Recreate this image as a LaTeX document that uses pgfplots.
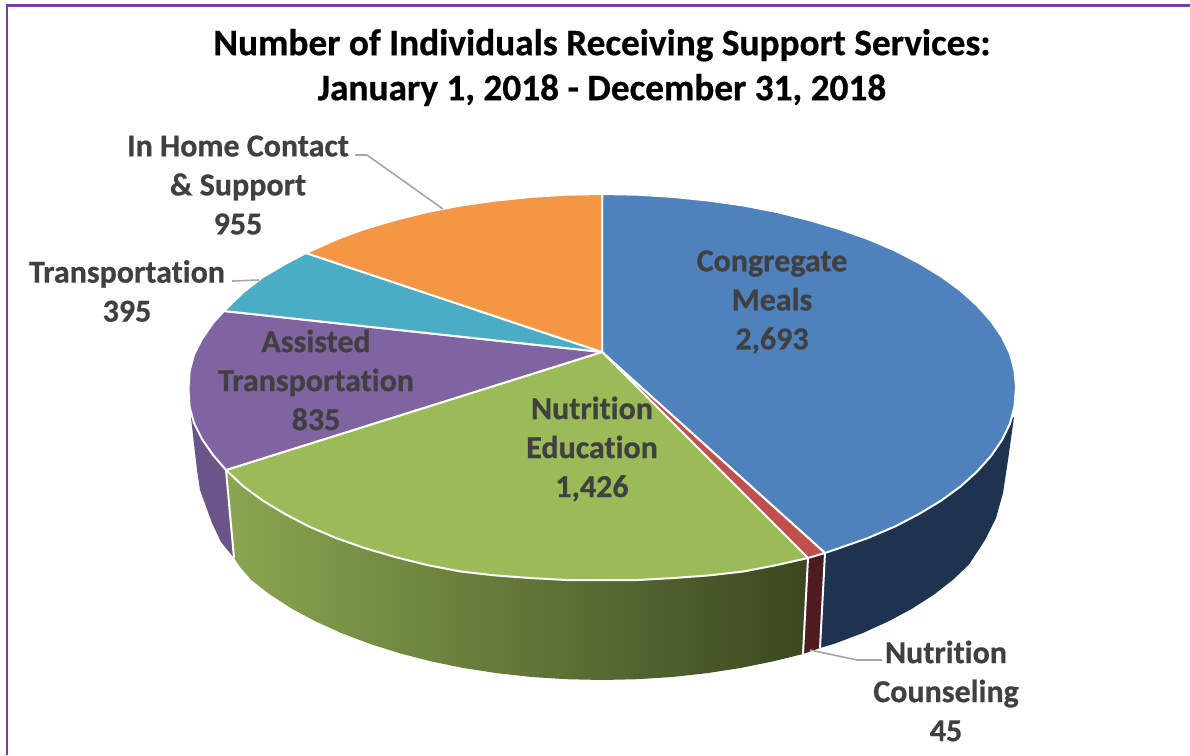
\documentclass[border=0pt]{standalone}
\usepackage{fontspec}
\setmainfont[Ligatures=NoCommon,BoldFeatures={FakeBold=0.6}]{Carlito}
\usepackage{pgfplots}
\pgfplotsset{compat=1.18}
% pie values, drawn as outlines in picture pixels
\definecolor{blu}{HTML}{4F81BD}
\definecolor{redd}{HTML}{C0504D}
\definecolor{grn}{HTML}{9BBB59}
\definecolor{pur}{HTML}{8064A2}
\definecolor{tea}{HTML}{4BACC6}
\definecolor{ora}{HTML}{F49644}
\definecolor{navy}{HTML}{1D3350}
\definecolor{wine}{HTML}{4E1C1E}
\definecolor{pursd}{HTML}{6B5488}
\definecolor{grnL}{HTML}{8AA650}
\definecolor{grnD}{HTML}{3B4720}
\definecolor{frame}{HTML}{7440A8}
\definecolor{ink}{HTML}{404040}
\definecolor{lead}{HTML}{A6A6A6}
\tikzset{
  lbl/.style={align=center, text=ink, inner sep=0pt,
              font=\fontsize{32}{39}\selectfont\bfseries},
  ttl/.style={align=center, text=black, inner sep=0pt,
              font=\fontsize{37.3}{45}\selectfont\bfseries},
}
\pgfplotsset{
  slice/.style={fill=#1, draw=white, line width=2pt, line join=round},
  side/.style={fill=#1, draw=none},
  sep/.style={draw=white, line width=2pt},
  leader/.style={draw=lead, line width=1.6pt},
}
\begin{document}
\begin{tikzpicture}
\path[use as bounding box] (0,0) rectangle (1190pt,755pt);
\begin{axis}[
  at={(0,0)}, anchor=south west,
  width=1190pt, height=755pt, scale only axis,
  xmin=0, xmax=1190, ymin=0, ymax=755, y dir=reverse,
  hide axis,
]
% frame
\addplot[draw=frame, line width=2.5pt] coordinates {(7,755) (7,5.5) (1190,5.5)};

% side walls
\addplot[side=navy] coordinates {
 (1014,417) (1008,460) (1003,493) (996,518) (985,540) (969,564.5) (952.7,580) (933.8,594.7)
 (912.2,608.6) (888.4,621.4) (862.3,633.2) (834.3,643.8) (820,648) (825,553)} --cycle;
\addplot[side=wine] coordinates {(825,553) (820,648) (803,654) (808,558)} --cycle;
\addplot[left color=grnL, right color=grnD, draw=none] coordinates {
 (808,558) (803,654) (773.2,661.3) (740.5,668) (706.8,673.2) (672.3,677) (637.3,679.2) (602,680)
 (566.7,679.2) (531.7,677) (497.2,673.2) (463.5,668) (430.8,661.3) (399.5,653.2) (369.7,643.8)
 (341.7,633.2) (315.6,621.4) (291.8,608.6) (270.2,594.7) (251.3,580) (240,567) (234,558) (226,470)} --cycle;
\addplot[side=pursd] coordinates {
 (190.7,415) (197,470) (200,490) (212,523) (221,542) (234,558) (226,470)} --cycle;
\addplot[sep] coordinates {(825,553) (820,648)};
\addplot[sep] coordinates {(808,558) (803,654)};
\addplot[sep] coordinates {(226,470) (234,558)};

% top faces
\addplot[slice=blu] coordinates {
 (602,352) (602,194) (638,194.7) (674,197) (709,200.6) (744,205.6) (777,212) (809,220) (839.5,229)
 (868,239) (895,250.5) (919,263) (941,276.3) (960.5,290.5) (977,305.4) (991,321) (1002,337)
 (1010,353.5) (1014.4,370) (1016,387) (1014.4,407) (1010,423.5) (1002,440) (991,456) (977,471.6)
 (960.5,486.5) (941,500.7) (919,514) (895,526.5) (868,538) (839.5,548) (825,553)} --cycle;
\addplot[slice=redd] coordinates {(602,352) (825,553) (808,558)} --cycle;
\addplot[slice=grn] coordinates {
 (602,352) (808,558) (777,565) (744,571.4) (709,575.4) (674,578) (638,580) (602,580) (566,580)
 (530,578) (495,575.4) (460,571.4) (427,565) (395,557) (364.5,548) (336,538) (309,526.5) (285,514)
 (263,500.7) (243.5,486.5) (226,470)} --cycle;
\addplot[slice=pur] coordinates {
 (602,352) (226,470) (213,455) (202,439) (194,423) (189.6,407) (188.5,389) (189.6,371) (194,354.5)
 (202,339) (213,323) (224,311)} --cycle;
\addplot[slice=tea] coordinates {
 (602,352) (224,311) (243.5,292) (263,277) (285,264) (306,253)} --cycle;
\addplot[slice=ora] coordinates {
 (602,352) (306,253) (336,239.5) (364.5,229) (395,220) (427,212) (460,205.6) (495,200.6) (530,197)
 (566,194.7) (602,194)} --cycle;

% leader lines
\addplot[leader] coordinates {(355,155) (367,155) (443,209)};
\addplot[leader] coordinates {(232,281) (259,280)};
\addplot[leader] coordinates {(810,650) (857,660) (882,660)};

% text
\node[ttl] at (axis cs:602,67.5) {Number of Individuals Receiving Support Services:\\January 1, 2018 - December 31, 2018};
\node[lbl] at (axis cs:772,302) {Congregate\\Meals\\2,693};
\node[lbl] at (axis cs:592,449) {Nutrition\\Education\\1,426};
\node[lbl] at (axis cs:316,380) {Assisted\\Transportation\\835};
\node[lbl] at (axis cs:127,291) {Transportation\\395};
\node[lbl] at (axis cs:238,185) {In Home Contact\\\& Support\\955};
\node[lbl] at (axis cs:946,691) {Nutrition\\Counseling\\45};
\end{axis}
\end{tikzpicture}
\end{document}
